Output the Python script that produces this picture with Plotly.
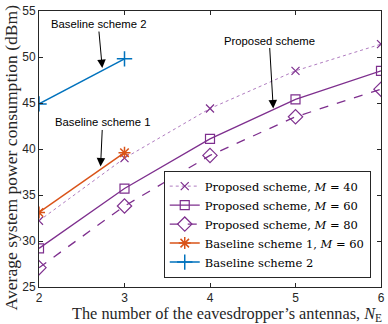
import plotly.graph_objects as go

ne = [2, 3, 4, 5, 6]
prop_m40 = [32.2, 39.0, 44.4, 48.5, 51.4]
prop_m60 = [29.2, 35.7, 41.1, 45.4, 48.5]
prop_m80 = [27.1, 33.8, 39.3, 43.5, 46.5]
ne_base = [2, 3]
base1_m60 = [33.1, 39.6]
base2 = [44.9, 49.8]

purple = "#7E2F8E"
orange = "#D95319"
blue = "#0072BD"
ink = "#262626"

fig = go.Figure()
fig.add_trace(go.Scatter(
    x=ne, y=prop_m40, mode="lines+markers", name="Proposed scheme, <i>M</i> = 40",
    line=dict(color="#B07CC0", width=1, dash="dot"),
    marker=dict(symbol="x-thin-open", size=8, color=purple, line=dict(color=purple, width=1.2)),
))
fig.add_trace(go.Scatter(
    x=ne, y=prop_m60, mode="lines+markers", name="Proposed scheme, <i>M</i> = 60",
    line=dict(color=purple, width=1.3),
    marker=dict(symbol="square-open", size=9, color=purple, line=dict(width=1.2)),
))
fig.add_trace(go.Scatter(
    x=ne, y=prop_m80, mode="lines+markers", name="Proposed scheme, <i>M</i> = 80",
    line=dict(color=purple, width=1.3, dash="dash"),
    marker=dict(symbol="diamond-open", size=11, color=purple, line=dict(width=1.2)),
))
fig.add_trace(go.Scatter(
    x=ne_base, y=base1_m60, mode="lines+markers", name="Baseline scheme 1, <i>M</i> = 60",
    line=dict(color=orange, width=1.5),
    marker=dict(symbol="asterisk-open", size=10, color=orange, line=dict(color=orange, width=1.5)),
))
fig.add_trace(go.Scatter(
    x=ne_base, y=base2, mode="lines+markers", name="Baseline scheme 2",
    line=dict(color=blue, width=1.5),
    marker=dict(symbol="cross-thin-open", size=11, color=blue, line=dict(color=blue, width=1.5)),
))

arrow = dict(showarrow=True, arrowhead=2, arrowsize=1.7, arrowwidth=1, arrowcolor="black",
             font=dict(family="Liberation Sans", size=11.3, color="black"))
fig.add_annotation(x=2.74, y=48.8, text="Baseline scheme 2", ax=-4, ay=-44, **arrow)
fig.add_annotation(x=2.72, y=38.1, text="Baseline scheme 1", ax=2, ay=-44, **arrow)
fig.add_annotation(x=4.74, y=44.4, text="Proposed scheme", ax=-4, ay=-68, **arrow)

# axis titles as annotations so they sit where the reference has them
fig.add_annotation(xref="paper", yref="paper", x=0.551, y=-0.097, showarrow=False,
                   xanchor="center", yanchor="middle",
                   text="The number of the eavesdropper’s antennas, <i>N</i><sub>E</sub>",
                   font=dict(family="Liberation Serif", size=16.3, color=ink))
fig.add_annotation(xref="paper", yref="paper", x=-0.083, y=0.468, showarrow=False, textangle=-90,
                   xanchor="center", yanchor="middle",
                   text="Average system power consumption (dBm)",
                   font=dict(family="Liberation Serif", size=17.6, color=ink))

axis_common = dict(showline=True, linecolor=ink, linewidth=1, mirror="ticks",
                   ticks="inside", ticklen=4, tickcolor=ink, showgrid=False, zeroline=False,
                   automargin=False,
                   tickfont=dict(family="Liberation Sans", size=12, color=ink))
fig.update_xaxes(range=[2, 6], tickvals=ne, **axis_common)
fig.update_yaxes(range=[25, 55], tickvals=[25, 30, 35, 40, 45, 50, 55], **axis_common)
fig.update_layout(
    width=388, height=324,
    margin=dict(l=39, r=7, t=11, b=37),
    plot_bgcolor="white", paper_bgcolor="white",
    legend=dict(x=0.97, y=0.034, xanchor="right", yanchor="bottom",
                bgcolor="white", bordercolor=ink, borderwidth=1,
                font=dict(family="DejaVu Serif", size=11.5, color="black"),
                tracegroupgap=0, itemwidth=30),
)
fig.write_html("out.html", config={"displayModeBar": False},
               post_script="document.body.style.margin='0';")
